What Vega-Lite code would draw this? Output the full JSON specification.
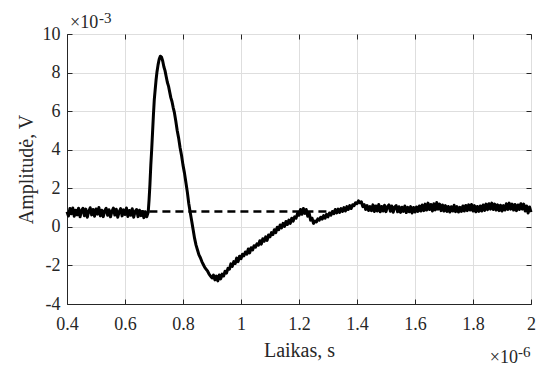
{
  "$schema": "https://vega.github.io/schema/vega-lite/v6.json",
  "width": 464,
  "height": 270,
  "autosize": {"type": "none"},
  "padding": {"left": 67, "top": 34, "right": 7, "bottom": 64},
  "background": "white",
  "config": {
    "font": "Liberation Serif",
    "text": {"font": "Liberation Serif"},
    "view": {"stroke": "#262626", "strokeWidth": 1},
    "axis": {
      "domainColor": "#262626",
      "tickColor": "#262626",
      "labelColor": "#262626",
      "titleColor": "#262626",
      "labelFont": "Liberation Serif",
      "titleFont": "Liberation Serif",
      "labelFontSize": 18,
      "titleFontSize": 20,
      "titleFontWeight": "normal",
      "gridColor": "#dedede",
      "gridWidth": 1,
      "labelFlush": false
    }
  },
  "datasets": {
    "signal": [
      {"t":0.400,"v":0.78},{"t":0.405,"v":0.56},{"t":0.410,"v":0.95},{"t":0.415,"v":0.68},{"t":0.420,"v":0.98},{"t":0.425,"v":0.55},{"t":0.430,"v":0.86},{"t":0.435,"v":0.62},{"t":0.440,"v":0.97},{"t":0.445,"v":0.52},
      {"t":0.450,"v":0.84},{"t":0.455,"v":0.96},{"t":0.460,"v":0.58},{"t":0.465,"v":0.92},{"t":0.470,"v":0.50},{"t":0.475,"v":0.80},{"t":0.480,"v":0.99},{"t":0.485,"v":0.62},{"t":0.490,"v":0.90},{"t":0.495,"v":0.55},
      {"t":0.500,"v":0.93},{"t":0.505,"v":0.66},{"t":0.510,"v":1.00},{"t":0.515,"v":0.57},{"t":0.520,"v":0.86},{"t":0.525,"v":0.53},{"t":0.530,"v":0.83},{"t":0.535,"v":0.96},{"t":0.540,"v":0.60},{"t":0.545,"v":0.89},
      {"t":0.550,"v":0.52},{"t":0.555,"v":0.80},{"t":0.560,"v":0.97},{"t":0.565,"v":0.61},{"t":0.570,"v":0.91},{"t":0.575,"v":0.50},{"t":0.580,"v":0.78},{"t":0.585,"v":0.95},{"t":0.590,"v":0.57},{"t":0.595,"v":0.88},
      {"t":0.600,"v":0.64},{"t":0.605,"v":0.98},{"t":0.610,"v":0.54},{"t":0.615,"v":0.85},{"t":0.620,"v":0.60},{"t":0.625,"v":0.94},{"t":0.630,"v":0.50},{"t":0.635,"v":0.80},{"t":0.640,"v":0.90},{"t":0.645,"v":0.53},
      {"t":0.650,"v":0.86},{"t":0.655,"v":0.58},{"t":0.660,"v":0.80},{"t":0.665,"v":0.48},{"t":0.670,"v":0.78},{"t":0.675,"v":0.52},{"t":0.680,"v":0.75},{"t":0.683,"v":1.4},{"t":0.686,"v":2.2},{"t":0.689,"v":3.2},
      {"t":0.692,"v":4.0},{"t":0.695,"v":4.9},{"t":0.698,"v":5.8},{"t":0.701,"v":6.6},{"t":0.704,"v":7.1},{"t":0.707,"v":7.6},{"t":0.710,"v":8.0},{"t":0.714,"v":8.4},{"t":0.718,"v":8.7},{"t":0.722,"v":8.85},
      {"t":0.726,"v":8.8},{"t":0.730,"v":8.6},{"t":0.734,"v":8.3},{"t":0.738,"v":8.1},{"t":0.742,"v":7.8},{"t":0.746,"v":7.5},{"t":0.750,"v":7.3},{"t":0.754,"v":7.0},{"t":0.758,"v":6.7},{"t":0.762,"v":6.5},
      {"t":0.766,"v":6.2},{"t":0.770,"v":5.95},{"t":0.775,"v":5.5},{"t":0.780,"v":5.0},{"t":0.785,"v":4.6},{"t":0.790,"v":4.1},{"t":0.795,"v":3.7},{"t":0.800,"v":3.2},{"t":0.805,"v":2.8},{"t":0.810,"v":2.3},
      {"t":0.815,"v":1.8},{"t":0.820,"v":1.2},{"t":0.825,"v":0.75},{"t":0.830,"v":0.3},{"t":0.835,"v":-0.15},{"t":0.840,"v":-0.6},{"t":0.845,"v":-0.95},{"t":0.850,"v":-1.2},{"t":0.855,"v":-1.45},{"t":0.860,"v":-1.6},
      {"t":0.865,"v":-1.8},{"t":0.870,"v":-1.95},{"t":0.875,"v":-2.1},{"t":0.880,"v":-2.2},{"t":0.885,"v":-2.3},{"t":0.890,"v":-2.45},{"t":0.895,"v":-2.55},{"t":0.900,"v":-2.65},{"t":0.905,"v":-2.5},{"t":0.910,"v":-2.75},
      {"t":0.915,"v":-2.55},{"t":0.920,"v":-2.8},{"t":0.925,"v":-2.5},{"t":0.930,"v":-2.7},{"t":0.935,"v":-2.45},{"t":0.940,"v":-2.55},{"t":0.945,"v":-2.3},{"t":0.950,"v":-2.4},{"t":0.955,"v":-2.15},{"t":0.960,"v":-2.2},
      {"t":0.965,"v":-1.92},{"t":0.970,"v":-2.05},{"t":0.975,"v":-1.8},{"t":0.980,"v":-1.9},{"t":0.985,"v":-1.62},{"t":0.990,"v":-1.8},{"t":0.995,"v":-1.52},{"t":1.000,"v":-1.65},{"t":1.005,"v":-1.42},{"t":1.010,"v":-1.5},
      {"t":1.015,"v":-1.3},{"t":1.020,"v":-1.42},{"t":1.025,"v":-1.15},{"t":1.030,"v":-1.35},{"t":1.035,"v":-1.08},{"t":1.040,"v":-1.2},{"t":1.045,"v":-0.98},{"t":1.050,"v":-1.05},{"t":1.055,"v":-0.88},{"t":1.060,"v":-0.95},
      {"t":1.065,"v":-0.72},{"t":1.070,"v":-0.9},{"t":1.075,"v":-0.62},{"t":1.080,"v":-0.75},{"t":1.085,"v":-0.52},{"t":1.090,"v":-0.7},{"t":1.095,"v":-0.42},{"t":1.100,"v":-0.52},{"t":1.105,"v":-0.3},{"t":1.110,"v":-0.4},
      {"t":1.115,"v":-0.15},{"t":1.120,"v":-0.3},{"t":1.125,"v":-0.02},{"t":1.130,"v":-0.15},{"t":1.135,"v":0.1},{"t":1.140,"v":-0.05},{"t":1.145,"v":0.18},{"t":1.150,"v":0.02},{"t":1.155,"v":0.28},{"t":1.160,"v":0.12},
      {"t":1.165,"v":0.35},{"t":1.170,"v":0.18},{"t":1.175,"v":0.45},{"t":1.180,"v":0.3},{"t":1.185,"v":0.52},{"t":1.190,"v":0.45},{"t":1.195,"v":0.7},{"t":1.200,"v":0.6},{"t":1.205,"v":0.9},{"t":1.210,"v":0.65},
      {"t":1.215,"v":0.95},{"t":1.220,"v":0.7},{"t":1.225,"v":0.9},{"t":1.230,"v":0.55},{"t":1.235,"v":0.72},{"t":1.240,"v":0.35},{"t":1.245,"v":0.45},{"t":1.250,"v":0.18},{"t":1.255,"v":0.3},{"t":1.260,"v":0.25},
      {"t":1.265,"v":0.42},{"t":1.270,"v":0.35},{"t":1.275,"v":0.5},{"t":1.280,"v":0.4},{"t":1.285,"v":0.58},{"t":1.290,"v":0.45},{"t":1.295,"v":0.65},{"t":1.300,"v":0.52},{"t":1.305,"v":0.72},{"t":1.310,"v":0.6},
      {"t":1.315,"v":0.8},{"t":1.320,"v":0.68},{"t":1.325,"v":0.9},{"t":1.330,"v":0.72},{"t":1.335,"v":0.92},{"t":1.340,"v":0.75},{"t":1.345,"v":0.95},{"t":1.350,"v":0.8},{"t":1.355,"v":1.0},{"t":1.360,"v":0.82},
      {"t":1.365,"v":1.05},{"t":1.370,"v":0.9},{"t":1.375,"v":1.1},{"t":1.380,"v":0.95},{"t":1.385,"v":1.15},{"t":1.390,"v":1.1},{"t":1.395,"v":1.25},{"t":1.400,"v":1.2},{"t":1.405,"v":1.35},{"t":1.410,"v":1.25},
      {"t":1.415,"v":1.3},{"t":1.420,"v":1.05},{"t":1.425,"v":1.15},{"t":1.430,"v":0.9},{"t":1.435,"v":1.1},{"t":1.440,"v":0.85},{"t":1.445,"v":1.05},{"t":1.450,"v":0.84},{"t":1.455,"v":1.14},{"t":1.460,"v":0.8},
      {"t":1.465,"v":1.08},{"t":1.470,"v":0.82},{"t":1.475,"v":1.16},{"t":1.480,"v":0.78},{"t":1.485,"v":1.06},{"t":1.490,"v":0.82},{"t":1.495,"v":1.12},{"t":1.500,"v":0.79},{"t":1.505,"v":1.05},{"t":1.510,"v":1.14},
      {"t":1.515,"v":0.81},{"t":1.520,"v":1.08},{"t":1.525,"v":0.76},{"t":1.530,"v":1.03},{"t":1.535,"v":1.1},{"t":1.540,"v":0.78},{"t":1.545,"v":1.04},{"t":1.550,"v":0.75},{"t":1.555,"v":1.02},{"t":1.560,"v":0.8},
      {"t":1.565,"v":1.08},{"t":1.570,"v":0.74},{"t":1.575,"v":1.01},{"t":1.580,"v":0.78},{"t":1.585,"v":1.05},{"t":1.590,"v":0.72},{"t":1.595,"v":1.0},{"t":1.600,"v":0.77},{"t":1.605,"v":1.03},{"t":1.610,"v":0.8},
      {"t":1.615,"v":1.08},{"t":1.620,"v":0.82},{"t":1.625,"v":1.13},{"t":1.630,"v":0.84},{"t":1.635,"v":1.18},{"t":1.640,"v":0.87},{"t":1.645,"v":1.23},{"t":1.650,"v":0.9},{"t":1.655,"v":1.16},{"t":1.660,"v":0.82},
      {"t":1.665,"v":1.2},{"t":1.670,"v":0.88},{"t":1.675,"v":1.26},{"t":1.680,"v":0.92},{"t":1.685,"v":1.18},{"t":1.690,"v":0.84},{"t":1.695,"v":1.13},{"t":1.700,"v":0.82},{"t":1.705,"v":1.1},{"t":1.710,"v":0.8},
      {"t":1.715,"v":1.06},{"t":1.720,"v":0.77},{"t":1.725,"v":1.04},{"t":1.730,"v":0.82},{"t":1.735,"v":1.12},{"t":1.740,"v":0.79},{"t":1.745,"v":1.05},{"t":1.750,"v":0.77},{"t":1.755,"v":1.01},{"t":1.760,"v":0.8},
      {"t":1.765,"v":1.08},{"t":1.770,"v":0.82},{"t":1.775,"v":1.11},{"t":1.780,"v":0.84},{"t":1.785,"v":1.14},{"t":1.790,"v":0.87},{"t":1.795,"v":1.16},{"t":1.800,"v":0.82},{"t":1.805,"v":1.1},{"t":1.810,"v":0.78},
      {"t":1.815,"v":1.06},{"t":1.820,"v":0.8},{"t":1.825,"v":1.08},{"t":1.830,"v":0.82},{"t":1.835,"v":1.13},{"t":1.840,"v":0.85},{"t":1.845,"v":1.18},{"t":1.850,"v":0.89},{"t":1.855,"v":1.2},{"t":1.860,"v":0.92},
      {"t":1.865,"v":1.23},{"t":1.870,"v":0.9},{"t":1.875,"v":1.18},{"t":1.880,"v":0.87},{"t":1.885,"v":1.14},{"t":1.890,"v":0.84},{"t":1.895,"v":1.12},{"t":1.900,"v":0.82},{"t":1.905,"v":1.1},{"t":1.910,"v":0.87},
      {"t":1.915,"v":1.2},{"t":1.920,"v":0.9},{"t":1.925,"v":1.23},{"t":1.930,"v":0.92},{"t":1.935,"v":1.18},{"t":1.940,"v":0.87},{"t":1.945,"v":1.16},{"t":1.950,"v":0.84},{"t":1.955,"v":1.13},{"t":1.960,"v":0.9},
      {"t":1.965,"v":1.2},{"t":1.970,"v":0.92},{"t":1.975,"v":1.18},{"t":1.980,"v":0.82},{"t":1.985,"v":1.08},{"t":1.990,"v":0.72},{"t":1.995,"v":1.03},{"t":2.000,"v":0.76}
    ],
    "reference": [
      {"t":0.4,"v":0.8},{"t":1.3,"v":0.8}
    ]
  },
  "layer": [
    {
      "data": {"name": "reference"},
      "mark": {"type": "line", "color": "black", "strokeWidth": 2.6, "strokeDash": [8, 5], "strokeDashOffset": 8.6},
      "encoding": {
        "x": {"field": "t", "type": "quantitative", "scale": {"domain": [0.4, 2], "nice": false, "zero": false},
              "axis": {"orient": "top", "values": [0.4,0.6,0.8,1,1.2,1.4,1.6,1.8,2], "labels": false, "title": null, "grid": false, "domain": false, "ticks": true, "tickSize": -5}},
        "y": {"field": "v", "type": "quantitative", "scale": {"domain": [-4, 10], "nice": false, "zero": false},
              "axis": {"orient": "right", "values": [-4,-2,0,2,4,6,8,10], "labels": false, "title": null, "grid": false, "domain": false, "ticks": true, "tickSize": -5}}
      }
    },
    {
      "data": {"name": "signal"},
      "mark": {"type": "line", "color": "black", "strokeWidth": 3, "strokeJoin": "round"},
      "encoding": {
        "x": {"field": "t", "type": "quantitative", "scale": {"domain": [0.4, 2], "nice": false, "zero": false},
              "axis": {"orient": "bottom", "values": [0.4,0.6,0.8,1,1.2,1.4,1.6,1.8,2], "format": "~g", "tickSize": -5, "labelPadding": 16, "labelFont": "Liberation Serif", "labelFontSize": 18, "titleFont": "Liberation Serif", "title": "Laikas, s", "titlePadding": 7, "grid": true}},
        "y": {"field": "v", "type": "quantitative", "scale": {"domain": [-4, 10], "nice": false, "zero": false},
              "axis": {"orient": "left", "values": [-4,-2,0,2,4,6,8,10], "labelExpr": "'' + datum.value", "tickSize": -5, "labelPadding": 12, "labelFont": "Liberation Serif", "labelFontSize": 18, "titleFont": "Liberation Serif", "title": "Amplitudė, V", "titlePadding": 6, "grid": true}}
      }
    },
    {
      "data": {"values": [{"t": 0.4, "v": 10, "s": "×10"}]},
      "mark": {"type": "text", "font": "Liberation Serif", "align": "left", "baseline": "alphabetic", "dx": 3, "dy": -6, "fontSize": 18, "color": "#262626"},
      "encoding": {
        "x": {"field": "t", "type": "quantitative", "axis": null},
        "y": {"field": "v", "type": "quantitative", "axis": null},
        "text": {"field": "s"}
      }
    },
    {
      "data": {"values": [{"t": 0.4, "v": 10, "s": "-3"}]},
      "mark": {"type": "text", "font": "Liberation Serif", "align": "left", "baseline": "alphabetic", "dx": 32, "dy": -11, "fontSize": 15, "color": "#262626"},
      "encoding": {
        "x": {"field": "t", "type": "quantitative", "axis": null},
        "y": {"field": "v", "type": "quantitative", "axis": null},
        "text": {"field": "s"}
      }
    },
    {
      "data": {"values": [{"t": 2, "v": -4, "s": "×10"}]},
      "mark": {"type": "text", "font": "Liberation Serif", "align": "right", "baseline": "alphabetic", "dx": -13, "dy": 59, "fontSize": 18, "color": "#262626"},
      "encoding": {
        "x": {"field": "t", "type": "quantitative", "axis": null},
        "y": {"field": "v", "type": "quantitative", "axis": null},
        "text": {"field": "s"}
      }
    },
    {
      "data": {"values": [{"t": 2, "v": -4, "s": "-6"}]},
      "mark": {"type": "text", "font": "Liberation Serif", "align": "left", "baseline": "alphabetic", "dx": -13, "dy": 53, "fontSize": 15, "color": "#262626"},
      "encoding": {
        "x": {"field": "t", "type": "quantitative", "axis": null},
        "y": {"field": "v", "type": "quantitative", "axis": null},
        "text": {"field": "s"}
      }
    }
  ],
  "resolve": {"axis": {"x": "independent", "y": "independent"}}
}
